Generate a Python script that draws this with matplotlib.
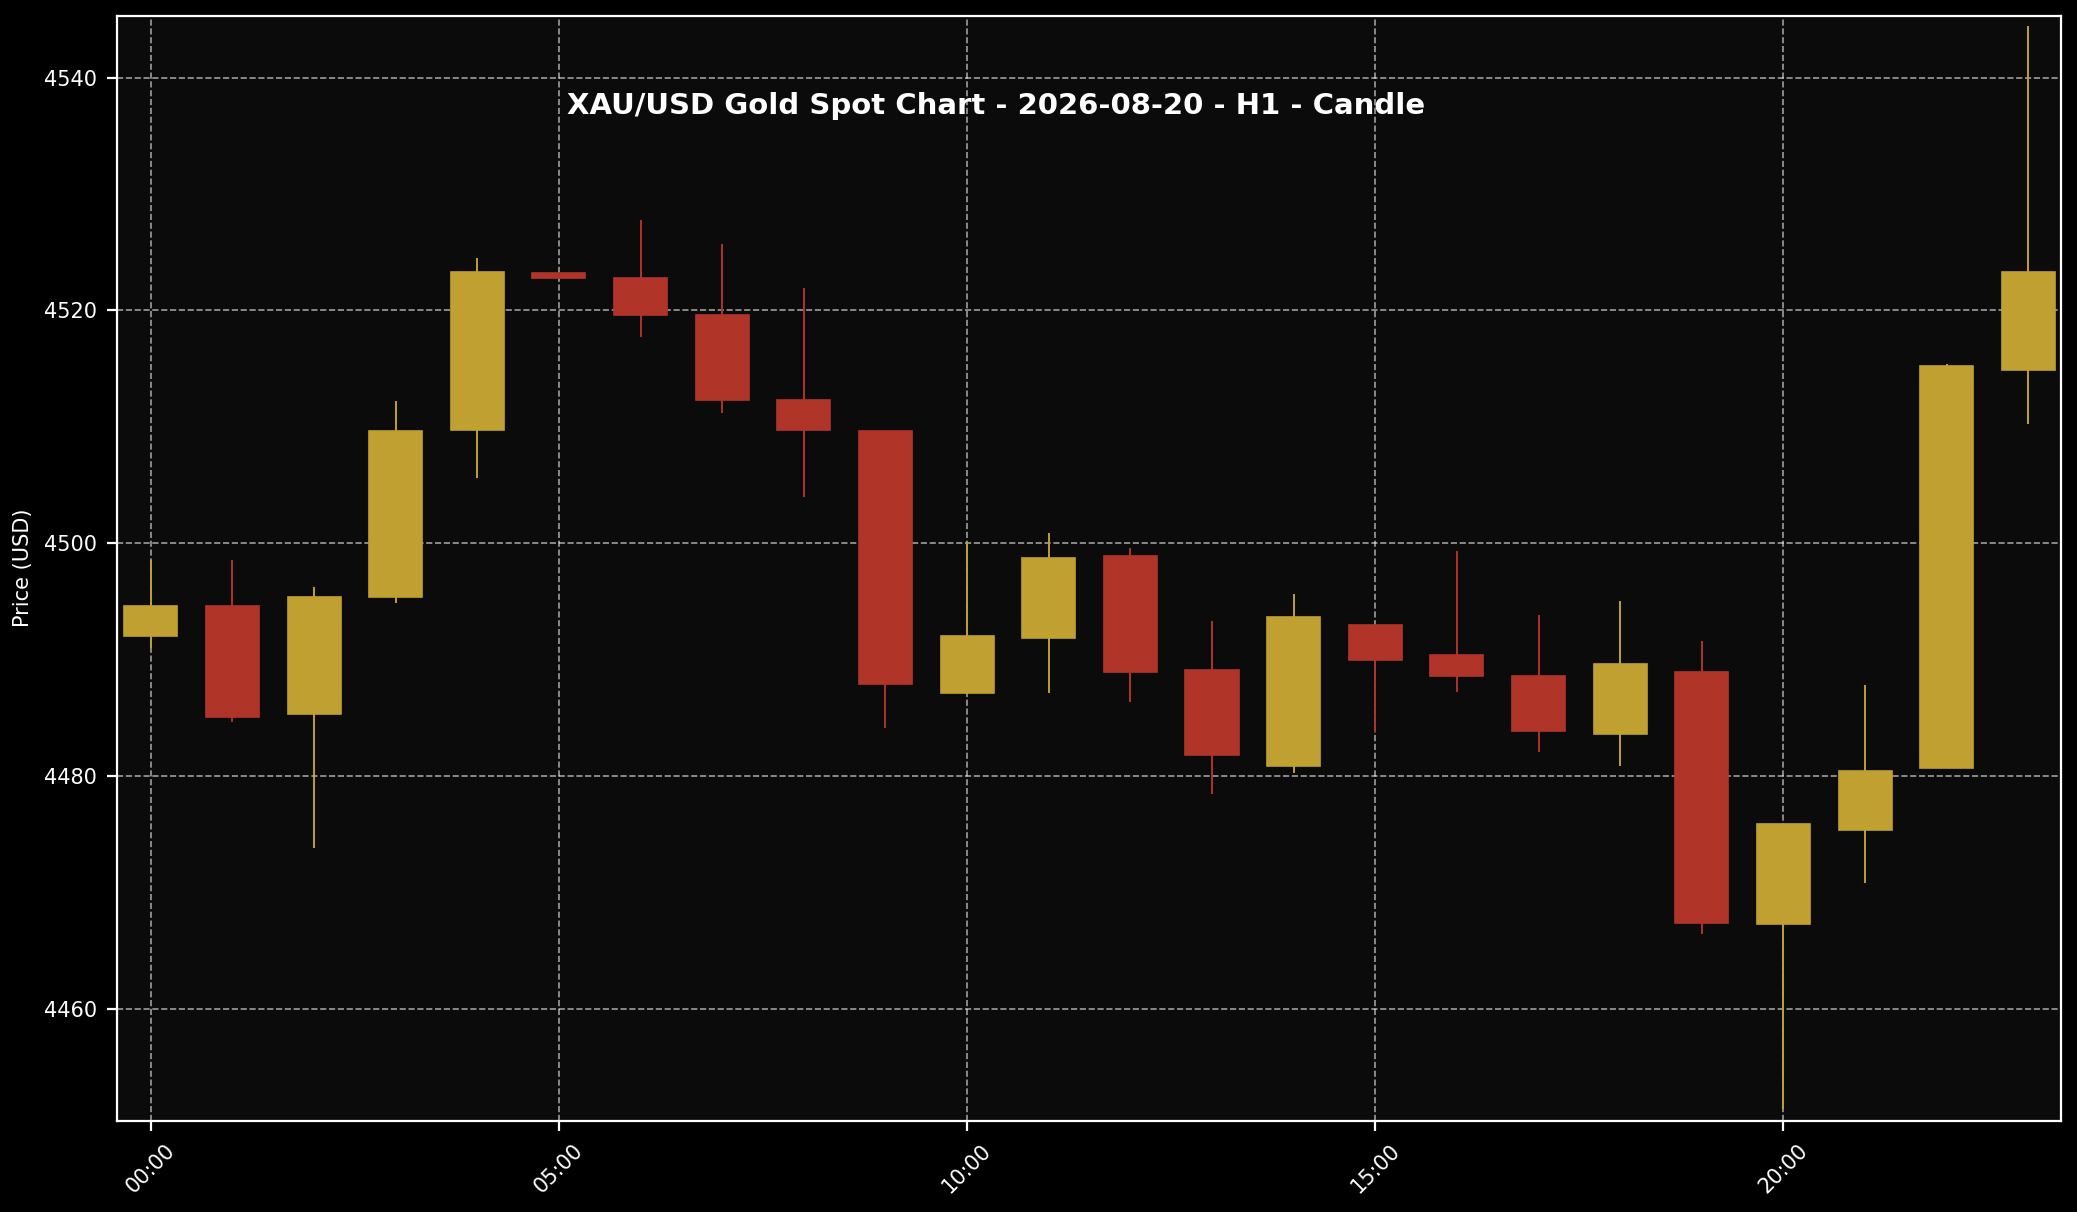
import matplotlib
matplotlib.use("Agg")
import matplotlib.pyplot as plt
from matplotlib.patches import Rectangle

hours = list(range(24))
labels = ["00:00", "05:00", "10:00", "15:00", "20:00"]
opens  = [4492.0,4494.6,4485.3,4495.4,4509.7,4523.2,4522.8,4519.6,4512.3,4509.6,4487.1,4491.9,
          4498.9,4489.1,4480.9,4493.0,4490.4,4488.6,4483.6,4488.9,4467.3,4475.4,4480.7,4514.9]
highs  = [4498.6,4498.6,4496.2,4512.2,4524.5,4523.3,4527.8,4525.7,4521.9,4509.6,4500.1,4500.9,
          4499.6,4493.3,4495.6,4493.0,4499.3,4493.8,4495.0,4491.6,4475.9,4487.8,4515.4,4544.4]
lows   = [4491.0,4484.6,4473.8,4494.9,4505.6,4522.7,4517.7,4511.2,4504.0,4484.1,4487.1,4487.1,
          4486.4,4478.5,4480.3,4483.8,4487.2,4482.1,4480.9,4466.4,4451.4,4470.8,4480.7,4510.2]
closes = [4494.6,4485.1,4495.4,4509.6,4523.3,4522.8,4519.6,4512.3,4509.7,4487.9,4492.0,4498.7,
          4488.9,4481.8,4493.7,4490.0,4488.6,4483.9,4489.6,4467.4,4475.9,4480.4,4515.2,4523.3]

UP = "#C0A030"; DOWN = "#B03428"
fig = plt.figure(figsize=(10.385, 6.06), dpi=200, facecolor="black")
ax = fig.add_axes([0.0561, 0.0754, 0.9362, 0.9115], facecolor="#0b0b0b")
w = 0.65
for h, o, hi, lo, c in zip(hours, opens, highs, lows, closes):
    col = UP if c >= o else DOWN
    ax.vlines(h, lo, hi, color=col, linewidth=0.7, zorder=2)
    ax.add_patch(Rectangle((h - w/2, min(o, c)), w, max(abs(c - o), 0.3),
                           facecolor=col, edgecolor=col, linewidth=0.6, zorder=3))
ax.set_xlim(-0.42, 23.4)
ax.set_ylim(4450.4, 4545.3)
ax.set_xticks([0, 5, 10, 15, 20])
ax.set_xticklabels(labels, rotation=45, color="white", fontsize=7.5)
ax.set_yticks([4460, 4480, 4500, 4520, 4540])
ax.tick_params(colors="white", labelsize=7.5)
ax.set_ylabel("Price (USD)", color="white", fontsize=7.5)
ax.grid(True, color="white", linestyle="--", linewidth=0.6, alpha=0.6)
for s in ax.spines.values():
    s.set_color("white")
ax.text(10.35, 4537.6, "XAU/USD Gold Spot Chart - 2026-08-20 - H1 - Candle",
        color="white", fontsize=10.5, fontweight="bold", ha="center", va="center")
fig.savefig("out.png", dpi=200, facecolor="black")
